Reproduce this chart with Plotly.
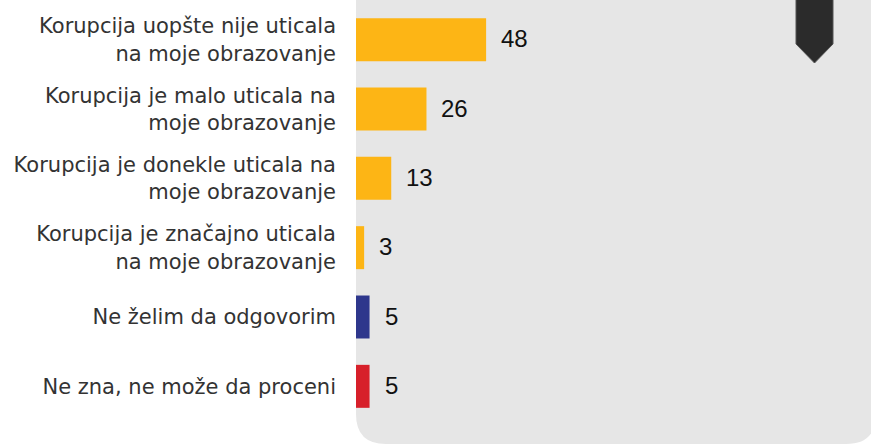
import plotly.graph_objects as go

# Survey answers (top to bottom) and shares in percent
categories = [
    "Korupcija uopšte nije uticala<br>na moje obrazovanje",
    "Korupcija je malo uticala na<br>moje obrazovanje",
    "Korupcija je donekle uticala na<br>moje obrazovanje",
    "Korupcija je značajno uticala<br>na moje obrazovanje",
    "Ne želim da odgovorim",
    "Ne zna, ne može da proceni",
]
values = [48, 26, 13, 3, 5, 5]
bar_colors = ["#FDB515", "#FDB515", "#FDB515", "#FDB515", "#2E378C", "#D7202A"]

fig = go.Figure(
    go.Bar(
        x=values,
        y=categories,
        orientation="h",
        marker=dict(color=bar_colors, line=dict(width=0)),
        hoverinfo="skip",
    )
)

# Value labels placed just right of each bar end
for cat, v in zip(categories, values):
    fig.add_annotation(
        x=v, y=cat, xref="x", yref="y", text=str(v), showarrow=False,
        xanchor="left", yanchor="middle", xshift=13, yshift=1,
        font=dict(family="Liberation Sans, Arial, sans-serif", size=24, color="#111111"),
    )

# Light grey rounded card behind the bars (pixel path anchored at the plot's bottom-left)
r = 30
card = (
    f"M 0,440 L 0,{-23 + r} Q 0,-23 {r},-23 "
    f"L {520 - r},-23 Q 520,-23 520,{-23 + r} L 520,440 Z"
)
fig.add_shape(
    type="path", xref="paper", yref="paper", xsizemode="pixel", ysizemode="pixel",
    xanchor=0, yanchor=0, path=card, fillcolor="#E6E6E6", line=dict(width=0), layer="below",
)

# Dark bookmark tab in the top-right corner
tab = "M 440,440 L 440,377 L 458.5,358 L 477,377 L 477,440 Z"
fig.add_shape(
    type="path", xref="paper", yref="paper", xsizemode="pixel", ysizemode="pixel",
    xanchor=0, yanchor=0, path=tab, fillcolor="#2B2B2B",
    line=dict(width=1, color="#555555"), layer="above",
)

fig.update_layout(
    width=871,
    height=445,
    margin=dict(l=356, r=0, t=5, b=24),
    paper_bgcolor="white",
    plot_bgcolor="rgba(0,0,0,0)",
    bargap=0.38,
    showlegend=False,
    font=dict(family="DejaVu Sans, sans-serif", size=21, color="#333333"),
)
fig.update_xaxes(range=[0, 190], visible=False, fixedrange=True)
fig.update_yaxes(
    autorange="reversed",
    showgrid=False,
    zeroline=False,
    showline=False,
    ticks="",
    ticklabelstandoff=19,
    tickfont=dict(family="DejaVu Sans, sans-serif", size=21, color="#333333"),
    fixedrange=True,
)

fig.write_html("out.html")
